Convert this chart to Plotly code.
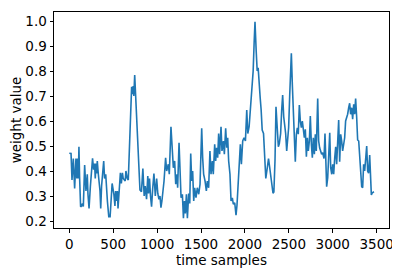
"""
Weight value over time samples, single noisy trace.
"""

import plotly.graph_objects as go

# ------------------------------------------------------------
# Data
# ------------------------------------------------------------
time_samples = [
    0, 20, 31, 46, 61, 76, 86, 95, 103, 110, 117, 129, 140, 150, 160, 175,
    190, 205, 213, 225, 240, 252, 265, 277, 288, 296, 305, 311, 319, 330,
    350, 358, 368, 392, 402, 415, 422, 434, 450, 465, 488, 497, 508, 520,
    528, 540, 548, 555, 563, 575, 582, 593, 605, 614, 625, 637, 645, 660,
    672, 690, 710, 720, 728, 735, 745, 756, 770, 786, 805, 822, 838, 853,
    865, 880, 894, 903, 914, 925, 937, 950, 964, 980, 995, 1008, 1021,
    1033, 1044, 1055, 1063, 1079, 1097, 1109, 1128, 1139, 1158, 1170,
    1185, 1200, 1212, 1227, 1234, 1250, 1261, 1273, 1288, 1300, 1311,
    1322, 1334, 1345, 1360, 1372, 1383, 1394, 1405, 1417, 1428, 1443,
    1458, 1474, 1489, 1508, 1519, 1530, 1546, 1561, 1572, 1587, 1602,
    1614, 1629, 1640, 1656, 1667, 1678, 1690, 1701, 1712, 1728, 1739,
    1755, 1766, 1781, 1793, 1804, 1815, 1830, 1842, 1857, 1868, 1884,
    1899, 1910, 1922, 1937, 1948, 1960, 1975, 1990, 2006, 2021, 2033,
    2048, 2063, 2078, 2094, 2105, 2115, 2128, 2140, 2151, 2162, 2174,
    2185, 2197, 2212, 2227, 2238, 2250, 2269, 2286, 2305, 2320, 2330,
    2343, 2354, 2369, 2381, 2392, 2407, 2419, 2430, 2442, 2453, 2464,
    2476, 2487, 2498, 2510, 2521, 2529, 2540, 2552, 2563, 2574, 2586,
    2597, 2608, 2620, 2631, 2643, 2654, 2665, 2677, 2688, 2700, 2711,
    2722, 2734, 2745, 2757, 2768, 2779, 2791, 2802, 2813, 2829, 2840,
    2851, 2863, 2874, 2886, 2901, 2912, 2931, 2943, 2954, 2966, 2977,
    2989, 3000, 3011, 3023, 3034, 3045, 3057, 3068, 3079, 3091, 3102,
    3113, 3125, 3136, 3147, 3159, 3170, 3182, 3193, 3204, 3216, 3227,
    3239, 3250, 3261, 3273, 3284, 3296, 3307, 3318, 3330, 3341, 3352,
    3364, 3375, 3387, 3398, 3409, 3421, 3432, 3440, 3451, 3470,
]

weight_value = [
    0.471, 0.470, 0.364, 0.45, 0.33, 0.45, 0.37, 0.45, 0.37, 0.497, 0.38,
    0.257, 0.26, 0.27, 0.258, 0.424, 0.32, 0.387, 0.307, 0.25, 0.337, 0.39,
    0.451, 0.405, 0.43, 0.37, 0.43, 0.39, 0.44, 0.39, 0.32, 0.25, 0.34,
    0.44, 0.37, 0.387, 0.333, 0.28, 0.217, 0.217, 0.35, 0.33, 0.307, 0.26,
    0.32, 0.28, 0.32, 0.25, 0.30, 0.33, 0.393, 0.35, 0.393, 0.37, 0.365,
    0.36, 0.40, 0.37, 0.364, 0.55, 0.737, 0.707, 0.74, 0.70, 0.784, 0.70,
    0.58, 0.457, 0.324, 0.317, 0.41, 0.30, 0.34, 0.287, 0.38, 0.31, 0.37,
    0.30, 0.257, 0.33, 0.39, 0.30, 0.37, 0.31, 0.287, 0.30, 0.253, 0.28,
    0.307, 0.36, 0.453, 0.40, 0.427, 0.387, 0.577, 0.48, 0.413, 0.44,
    0.347, 0.387, 0.333, 0.513, 0.387, 0.293, 0.307, 0.211, 0.28, 0.23,
    0.307, 0.211, 0.31, 0.27, 0.47, 0.36, 0.40, 0.28, 0.333, 0.293, 0.333,
    0.307, 0.347, 0.571, 0.453, 0.387, 0.36, 0.32, 0.36, 0.333, 0.48,
    0.387, 0.44, 0.387, 0.507, 0.44, 0.493, 0.453, 0.55, 0.467, 0.577,
    0.48, 0.52, 0.467, 0.571, 0.493, 0.533, 0.44, 0.387, 0.28, 0.293,
    0.267, 0.273, 0.223, 0.264, 0.337, 0.40, 0.507, 0.427, 0.52, 0.533,
    0.52, 0.644, 0.55, 0.577, 0.644, 0.71, 0.80, 0.911, 0.997, 0.884, 0.80,
    0.813, 0.733, 0.693, 0.644, 0.564, 0.55, 0.40, 0.37, 0.40, 0.45, 0.404,
    0.36, 0.311, 0.316, 0.444, 0.657, 0.577, 0.497, 0.51, 0.55, 0.644,
    0.704, 0.617, 0.58, 0.55, 0.48, 0.52, 0.573, 0.70, 0.777, 0.871, 0.747,
    0.64, 0.52, 0.437, 0.547, 0.573, 0.547, 0.664, 0.60, 0.573, 0.60, 0.56,
    0.533, 0.567, 0.457, 0.533, 0.48, 0.52, 0.62, 0.507, 0.453, 0.533,
    0.467, 0.547, 0.48, 0.69, 0.52, 0.493, 0.473, 0.467, 0.473, 0.45,
    0.55, 0.337, 0.373, 0.44, 0.553, 0.413, 0.387, 0.427, 0.387, 0.453,
    0.497, 0.427, 0.507, 0.604, 0.437, 0.547, 0.52, 0.48, 0.507, 0.533, 0.60,
    0.611, 0.627, 0.653, 0.671, 0.627, 0.653, 0.607, 0.667, 0.627, 0.69,
    0.613, 0.524, 0.52, 0.447, 0.413, 0.337, 0.333, 0.427, 0.40, 0.44, 0.50,
    0.40, 0.391, 0.464, 0.333, 0.304, 0.313, 0.317,
]

x_ticks = [0, 500, 1000, 1500, 2000, 2500, 3000, 3500]
y_ticks = [0.2, 0.3, 0.4, 0.5, 0.6, 0.7, 0.8, 0.9, 1.0]

FONT = dict(family="DejaVu Sans", size=13.5, color="black")

# ------------------------------------------------------------
# Figure
# ------------------------------------------------------------
fig = go.Figure(
    go.Scatter(
        x=time_samples,
        y=weight_value,
        mode="lines",
        line=dict(color="#1f77b4", width=1.6),
        showlegend=False,
    )
)

axis_style = dict(
    showgrid=False,
    zeroline=False,
    showline=True,
    linecolor="black",
    linewidth=1,
    mirror=True,
    ticks="outside",
    ticklen=3.5,
    tickcolor="black",
    tickfont=FONT,
    automargin=False,
)

fig.update_xaxes(
    range=[-174, 3641],
    tickvals=x_ticks,
    title=dict(text="time samples", font=FONT, standoff=2),
    **axis_style,
)
fig.update_yaxes(
    range=[0.172, 1.036],
    tickvals=y_ticks,
    tickformat=".1f",
    title=dict(text="weight value", font=FONT, standoff=0),
    **axis_style,
)

# page body has an 8px margin, so the figure is drawn 8px smaller
fig.update_layout(
    width=392,
    height=266,
    margin=dict(l=46, r=11, t=4, b=46),
    plot_bgcolor="white",
    paper_bgcolor="white",
)

fig.write_html("out.html")
